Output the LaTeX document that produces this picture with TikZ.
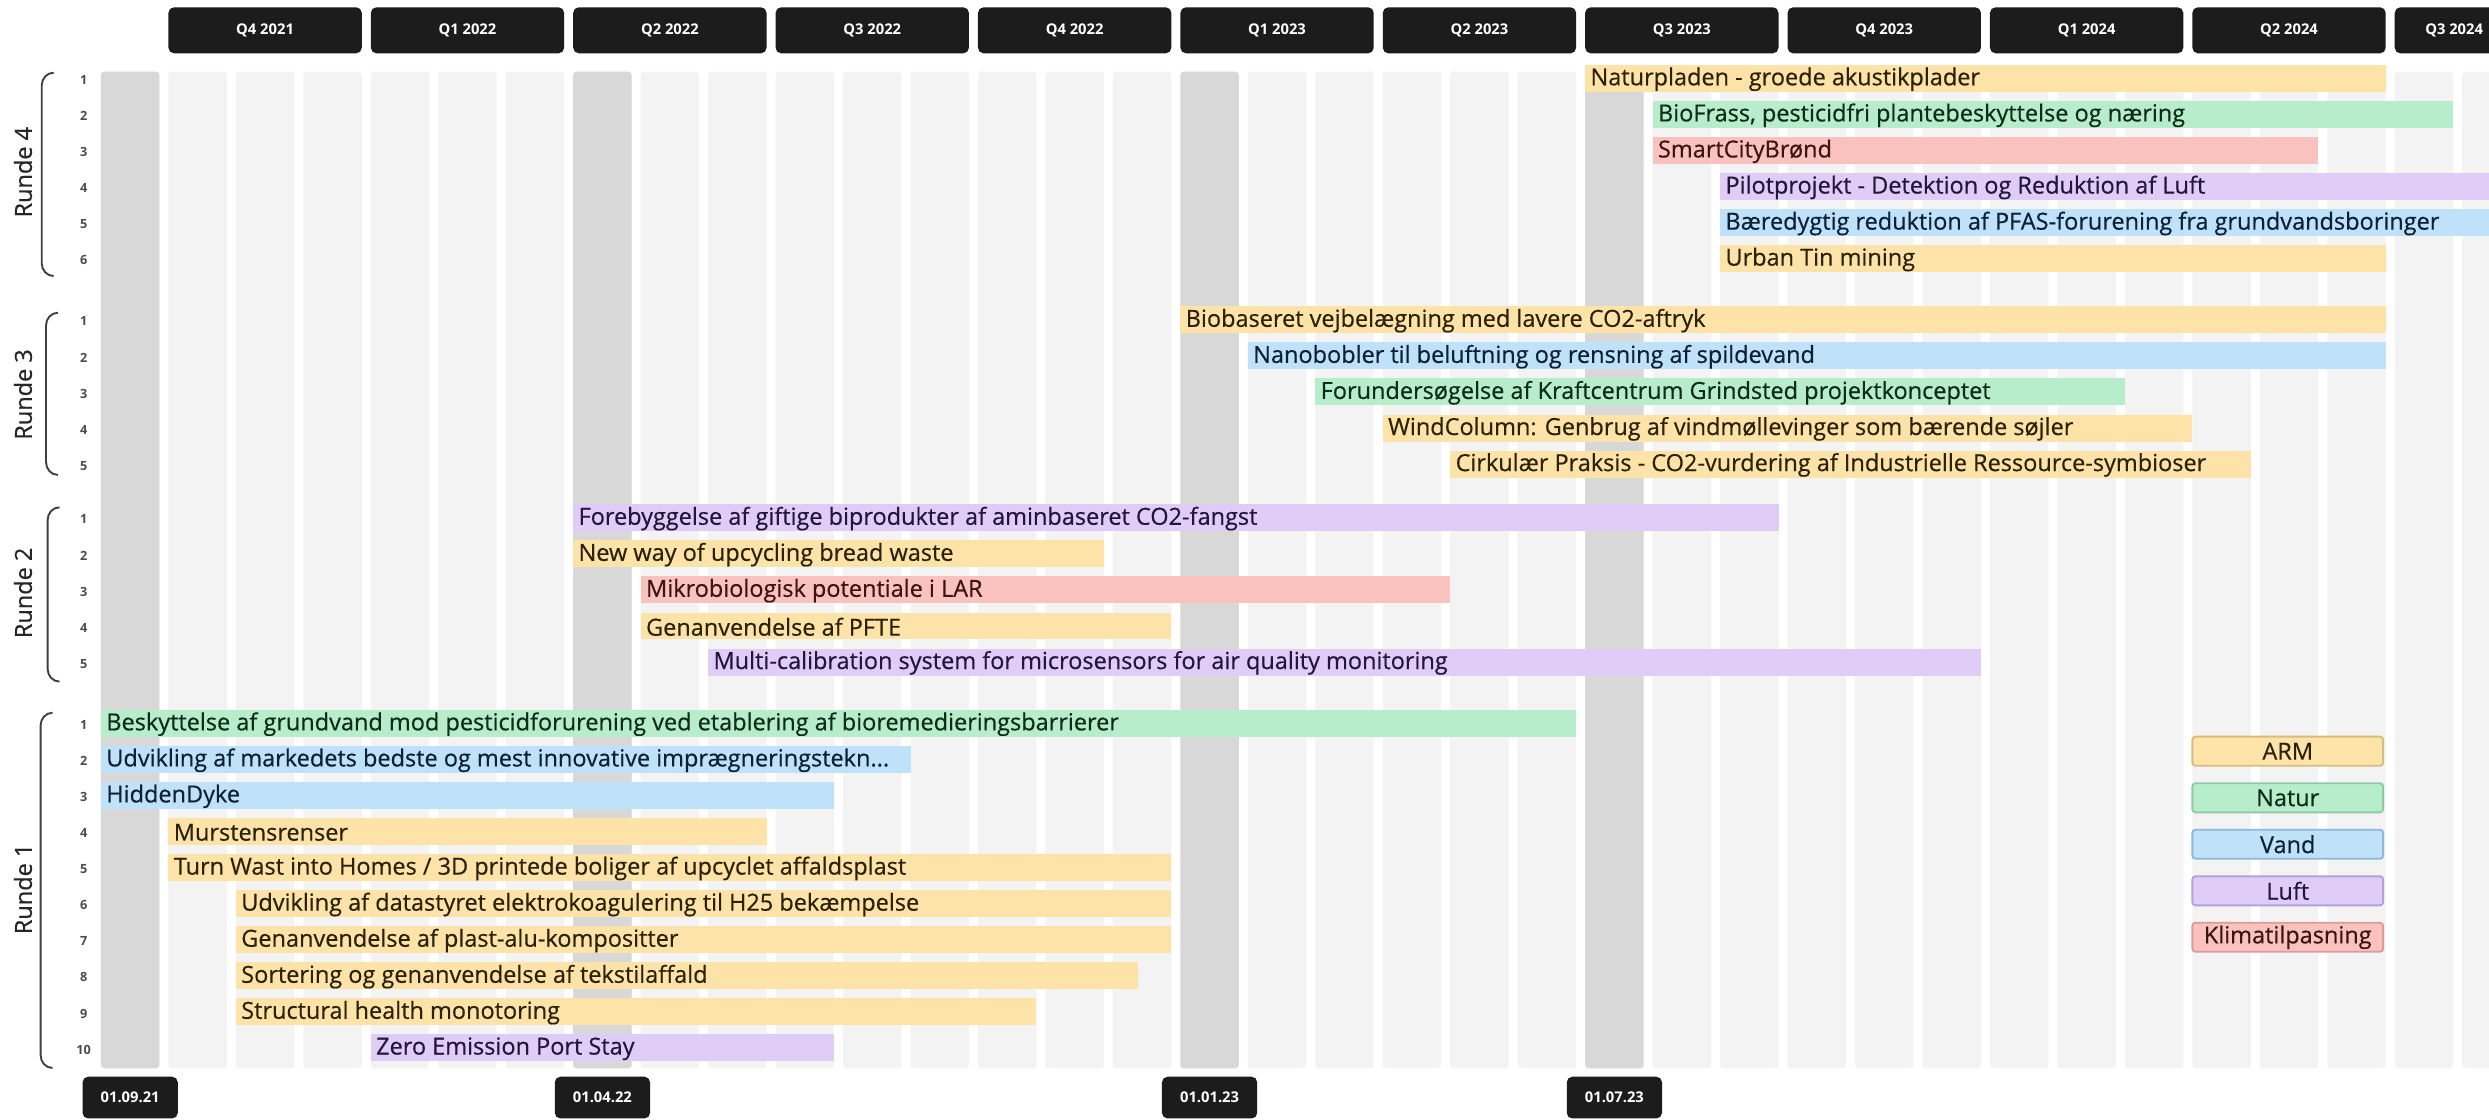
\documentclass[tikz,border=0pt]{standalone}
\usepackage{fontspec}
\setmainfont{Open Sans}
\newfontfamily\medfont{Open Sans}[FakeBold=0.5]

\definecolor{armfill}{HTML}{FDE3A7}
\definecolor{armline}{HTML}{D6BC7E}
\definecolor{armtext}{HTML}{2B220C}
\definecolor{naturfill}{HTML}{B7EDCB}
\definecolor{naturline}{HTML}{8ECAA5}
\definecolor{naturtext}{HTML}{0E2C1A}
\definecolor{vandfill}{HTML}{BFE1F9}
\definecolor{vandline}{HTML}{8DB8DA}
\definecolor{vandtext}{HTML}{0D2135}
\definecolor{luftfill}{HTML}{DFCDF8}
\definecolor{luftline}{HTML}{B5A0D8}
\definecolor{lufttext}{HTML}{24153C}
\definecolor{klimafill}{HTML}{FAC2BE}
\definecolor{klimaline}{HTML}{D89D99}
\definecolor{klimatext}{HTML}{3A1513}
\definecolor{colgray}{HTML}{F3F3F3}
\definecolor{colmark}{HTML}{D8D8D8}
\definecolor{headbg}{HTML}{1C1C1C}

\def\colx{63.6}
\def\colpitch{42.5}
\def\colw{36.8}
\def\rowpitch{22.72}

\tikzset{
  barlbl/.style={anchor=west, inner xsep=1.5pt, inner ysep=0pt,
    font=\medfont\fontsize{7.4}{8.8}\selectfont},
  headlbl/.style={text=white, inner sep=0pt, font=\fontsize{4.65}{5.5}\selectfont\bfseries},
  rownum/.style={text=black!70, inner sep=0pt, font=\fontsize{4}{5}\selectfont\bfseries},
  rundelbl/.style={rotate=90, inner sep=0pt, text=black!85, font=\medfont\fontsize{7.4}{8.8}\selectfont},
  braceline/.style={draw=black!75, line width=0.6pt},
  legbox/.style={minimum width=60.1pt, minimum height=9.15pt, inner sep=0pt,
    line width=0.6pt, rounded corners=1pt, font=\medfont\fontsize{7.4}{8.8}\selectfont}
}

% name, first row y, row, start month, end month, category, text
\newcommand{\projbar}[7]{%
  \pgfmathsetmacro{\by}{#2+\rowpitch*(#3-1)}
  \fill[#6fill] ({\colx+\colpitch*#4},\by-9.5) rectangle ({\colx+\colpitch*#5},\by+7.5);
  \node[barlbl, text=#6text] (#1) at ({\colx+\colpitch*#4},\by-0.5) {#7};
}
% x, top, bottom
\newcommand{\rundebrace}[3]{%
  \draw[braceline] (#1+7.5,#2) to[out=180,in=90] (#1,#2+8) -- (#1,#3-8) to[out=-90,in=180] (#1+7.5,#3);
}

\begin{document}
\begin{tikzpicture}[x=0.5pt,y=-0.5pt]
\useasboundingbox (0,0) rectangle (1568,705);
\clip (0,0) rectangle (1568,705);
\fill[white] (0,0) rectangle (1568,705);

% month columns
\foreach \i in {0,...,35}
  \fill[colgray, rounded corners=1pt] ({\colx+\colpitch*\i},45.2) rectangle ({\colx+\colpitch*\i+\colw},673);
\foreach \i in {0,7,16,22}
  \fill[colmark, rounded corners=1pt] ({\colx+\colpitch*\i},45.2) rectangle ({\colx+\colpitch*\i+\colw},673);

% quarters
\foreach \q/\lab in {0/Q4 2021,1/Q1 2022,2/Q2 2022,3/Q3 2022,4/Q4 2022,5/Q1 2023,
                     6/Q2 2023,7/Q3 2023,8/Q4 2023,9/Q1 2024,10/Q2 2024} {
  \fill[headbg, rounded corners=1.75pt] ({\colx+\colpitch*(1+3*\q)},4.6) rectangle ({\colx+\colpitch*(3+3*\q)+\colw},33.6);
  \node[headlbl] (q\q) at ({\colx+\colpitch*(2+3*\q)+\colw/2},19.1) {\lab};
}
\fill[headbg, rounded corners=1.75pt] ({\colx+\colpitch*34},4.6) rectangle (1600,33.6);
\node[headlbl] (q11) at (1546,19.1) {Q3 2024};

% dates
\foreach \mi/\lab in {0/01.09.21,7/01.04.22,16/01.01.23,22/01.07.23} {
  \fill[headbg, rounded corners=1.75pt] ({\colx+\colpitch*\mi+\colw/2-30},678.3) rectangle ({\colx+\colpitch*\mi+\colw/2+30},704.6);
  \node[headlbl] (d\mi) at ({\colx+\colpitch*\mi+\colw/2},691.5) {\lab};
}

% row numbers
\foreach \g/\base/\n in {4/50.4/6,3/202.5/5,2/327.2/5,1/456.7/10}
  \foreach \k in {1,...,\n}
    \node[rownum] (r\g n\k) at (52.7,{\base+\rowpitch*(\k-1)}) {\k};

% rounds
\rundebrace{26.3}{45.8}{173.9}
\node[rundelbl] (runde4) at (14.5,108.5) {Runde 4};
\rundebrace{29}{197}{299.2}
\node[rundelbl] (runde3) at (14.5,248.5) {Runde 3};
\rundebrace{30}{319.6}{429.4}
\node[rundelbl] (runde2) at (14.5,373.5) {Runde 2};
\rundebrace{25.6}{449}{672.8}
\node[rundelbl] (runde1) at (14.5,560) {Runde 1};

% Runde 4
\projbar{p41}{50.4}{1}{22}{33.866}{arm}{Naturpladen - groede akustikplader}
\projbar{p42}{50.4}{2}{23}{34.866}{natur}{BioFrass, pesticidfri plantebeskyttelse og næring}
\projbar{p43}{50.4}{3}{23}{32.866}{klima}{SmartCityBrønd}
\projbar{p44}{50.4}{4}{24}{40}{luft}{Pilotprojekt - Detektion og Reduktion af Luft}
\projbar{p45}{50.4}{5}{24}{40}{vand}{Bæredygtig reduktion af PFAS-forurening fra grundvandsboringer}
\projbar{p46}{50.4}{6}{24}{33.866}{arm}{Urban Tin mining}

% Runde 3
\projbar{p31}{202.5}{1}{16}{33.866}{arm}{Biobaseret vejbelægning med lavere CO2-aftryk}
\projbar{p32}{202.5}{2}{17}{33.866}{vand}{Nanobobler til beluftning og rensning af spildevand}
\projbar{p33}{202.5}{3}{18}{30}{natur}{Forundersøgelse af Kraftcentrum Grindsted projektkonceptet}
\projbar{p34}{202.5}{4}{19}{31}{arm}{WindColumn: Genbrug af vindmøllevinger som bærende søjler}
\projbar{p35}{202.5}{5}{20}{31.866}{arm}{Cirkulær Praksis - CO2-vurdering af Industrielle Ressource-symbioser}

% Runde 2
\projbar{p21}{327.2}{1}{7}{24.866}{luft}{Forebyggelse af giftige biprodukter af aminbaseret CO2-fangst}
\projbar{p22}{327.2}{2}{7}{14.866}{arm}{New way of upcycling bread waste}
\projbar{p23}{327.2}{3}{8}{20}{klima}{Mikrobiologisk potentiale i LAR}
\projbar{p24}{327.2}{4}{8}{15.866}{arm}{Genanvendelse af PFTE}
\projbar{p25}{327.2}{5}{9}{27.866}{luft}{Multi-calibration system for microsensors for air quality monitoring}

% Runde 1
\projbar{p11}{456.7}{1}{0}{21.866}{natur}{Beskyttelse af grundvand mod pesticidforurening ved etablering af bioremedieringsbarrierer}
\projbar{p12}{456.7}{2}{0}{12}{vand}{Udvikling af markedets bedste og mest innovative imprægneringstekn...}
\projbar{p13}{456.7}{3}{0}{10.866}{vand}{HiddenDyke}
\projbar{p14}{456.7}{4}{1}{9.866}{arm}{Murstensrenser}
\projbar{p15}{456.7}{5}{1}{15.866}{arm}{Turn Wast into Homes / 3D printede boliger af upcyclet affaldsplast}
\projbar{p16}{456.7}{6}{2}{15.866}{arm}{Udvikling af datastyret elektrokoagulering til H25 bekæmpelse}
\projbar{p17}{456.7}{7}{2}{15.866}{arm}{Genanvendelse af plast-alu-kompositter}
\projbar{p18}{456.7}{8}{2}{15.37}{arm}{Sortering og genanvendelse af tekstilaffald}
\projbar{p19}{456.7}{9}{2}{13.866}{arm}{Structural health monotoring}
\projbar{p110}{456.7}{10}{4}{10.866}{luft}{Zero Emission Port Stay}

% legend
\node[legbox, fill=armfill, draw=armline, text=armtext] (legarm) at (1441.2,473.25) {ARM};
\node[legbox, fill=naturfill, draw=naturline, text=naturtext] (legnatur) at (1441.2,502.6) {Natur};
\node[legbox, fill=vandfill, draw=vandline, text=vandtext] (legvand) at (1441.2,531.85) {Vand};
\node[legbox, fill=luftfill, draw=luftline, text=lufttext] (legluft) at (1441.2,561.2) {Luft};
\node[legbox, fill=klimafill, draw=klimaline, text=klimatext] (legklima) at (1441.2,590.45) {Klimatilpasning};
\end{tikzpicture}
\end{document}
